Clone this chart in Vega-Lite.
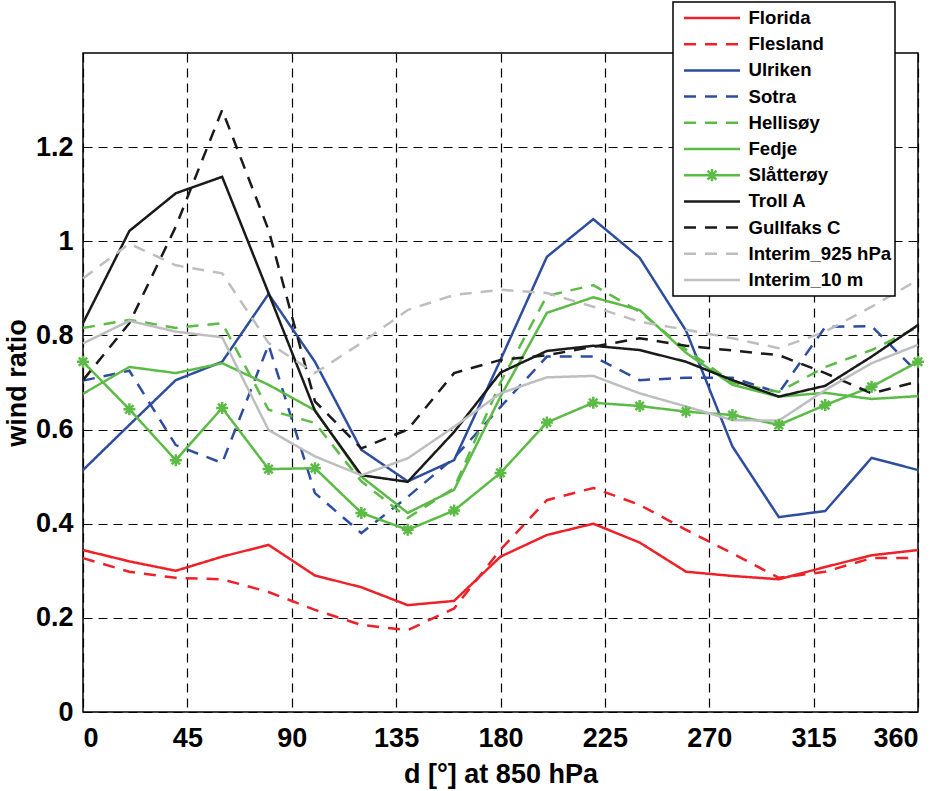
{
  "$schema": "https://vega.github.io/schema/vega-lite/v6.json",
  "description": "Wind ratio against wind direction at 850 hPa",
  "width": 835,
  "height": 659,
  "autosize": {"type": "none"},
  "padding": {"left": 83, "top": 53, "right": 23, "bottom": 79},
  "config": {
    "font": "Liberation Sans",
    "view": {"stroke": "black", "strokeWidth": 1.5},
    "axis": {
      "grid": true,
      "gridColor": "black",
      "gridDash": [9, 6],
      "gridWidth": 1.2,
      "gridOpacity": 1,
      "domain": false,
      "ticks": false,
      "tickSize": 0,
      "labelFont": "Liberation Sans",
      "labelFontSize": 27,
      "labelFontWeight": "bold",
      "labelColor": "black",
      "titleFont": "Liberation Sans",
      "titleFontSize": 27,
      "titleFontWeight": "bold",
      "titleColor": "black"
    }
  },
  "datasets": {
    "wind": [
      {"d": 0, "series": "Florida", "v": 0.344}, {"d": 20, "series": "Florida", "v": 0.32}, {"d": 40, "series": "Florida", "v": 0.30}, {"d": 60, "series": "Florida", "v": 0.33}, {"d": 80, "series": "Florida", "v": 0.355}, {"d": 100, "series": "Florida", "v": 0.29}, {"d": 120, "series": "Florida", "v": 0.265}, {"d": 140, "series": "Florida", "v": 0.227}, {"d": 160, "series": "Florida", "v": 0.236}, {"d": 180, "series": "Florida", "v": 0.33}, {"d": 200, "series": "Florida", "v": 0.376}, {"d": 220, "series": "Florida", "v": 0.40}, {"d": 240, "series": "Florida", "v": 0.36}, {"d": 260, "series": "Florida", "v": 0.298}, {"d": 280, "series": "Florida", "v": 0.289}, {"d": 300, "series": "Florida", "v": 0.282}, {"d": 320, "series": "Florida", "v": 0.308}, {"d": 340, "series": "Florida", "v": 0.333}, {"d": 360, "series": "Florida", "v": 0.344},
      {"d": 0, "series": "Flesland", "v": 0.327}, {"d": 20, "series": "Flesland", "v": 0.298}, {"d": 40, "series": "Flesland", "v": 0.285}, {"d": 60, "series": "Flesland", "v": 0.282}, {"d": 80, "series": "Flesland", "v": 0.255}, {"d": 100, "series": "Flesland", "v": 0.217}, {"d": 120, "series": "Flesland", "v": 0.185}, {"d": 140, "series": "Flesland", "v": 0.174}, {"d": 160, "series": "Flesland", "v": 0.22}, {"d": 180, "series": "Flesland", "v": 0.345}, {"d": 200, "series": "Flesland", "v": 0.45}, {"d": 220, "series": "Flesland", "v": 0.476}, {"d": 240, "series": "Flesland", "v": 0.44}, {"d": 260, "series": "Flesland", "v": 0.387}, {"d": 280, "series": "Flesland", "v": 0.337}, {"d": 300, "series": "Flesland", "v": 0.285}, {"d": 320, "series": "Flesland", "v": 0.298}, {"d": 340, "series": "Flesland", "v": 0.327}, {"d": 360, "series": "Flesland", "v": 0.327},
      {"d": 0, "series": "Ulriken", "v": 0.514}, {"d": 20, "series": "Ulriken", "v": 0.61}, {"d": 40, "series": "Ulriken", "v": 0.705}, {"d": 60, "series": "Ulriken", "v": 0.744}, {"d": 80, "series": "Ulriken", "v": 0.888}, {"d": 100, "series": "Ulriken", "v": 0.744}, {"d": 120, "series": "Ulriken", "v": 0.557}, {"d": 140, "series": "Ulriken", "v": 0.49}, {"d": 160, "series": "Ulriken", "v": 0.535}, {"d": 180, "series": "Ulriken", "v": 0.748}, {"d": 200, "series": "Ulriken", "v": 0.967}, {"d": 220, "series": "Ulriken", "v": 1.047}, {"d": 240, "series": "Ulriken", "v": 0.965}, {"d": 260, "series": "Ulriken", "v": 0.81}, {"d": 280, "series": "Ulriken", "v": 0.564}, {"d": 300, "series": "Ulriken", "v": 0.414}, {"d": 320, "series": "Ulriken", "v": 0.427}, {"d": 340, "series": "Ulriken", "v": 0.54}, {"d": 360, "series": "Ulriken", "v": 0.514},
      {"d": 0, "series": "Sotra", "v": 0.704}, {"d": 20, "series": "Sotra", "v": 0.725}, {"d": 40, "series": "Sotra", "v": 0.567}, {"d": 60, "series": "Sotra", "v": 0.529}, {"d": 80, "series": "Sotra", "v": 0.78}, {"d": 100, "series": "Sotra", "v": 0.465}, {"d": 120, "series": "Sotra", "v": 0.38}, {"d": 140, "series": "Sotra", "v": 0.457}, {"d": 160, "series": "Sotra", "v": 0.54}, {"d": 180, "series": "Sotra", "v": 0.648}, {"d": 200, "series": "Sotra", "v": 0.755}, {"d": 220, "series": "Sotra", "v": 0.755}, {"d": 240, "series": "Sotra", "v": 0.705}, {"d": 260, "series": "Sotra", "v": 0.71}, {"d": 280, "series": "Sotra", "v": 0.71}, {"d": 300, "series": "Sotra", "v": 0.678}, {"d": 320, "series": "Sotra", "v": 0.818}, {"d": 340, "series": "Sotra", "v": 0.82}, {"d": 360, "series": "Sotra", "v": 0.72},
      {"d": 0, "series": "Hellisøy", "v": 0.816}, {"d": 20, "series": "Hellisøy", "v": 0.833}, {"d": 40, "series": "Hellisøy", "v": 0.816}, {"d": 60, "series": "Hellisøy", "v": 0.826}, {"d": 80, "series": "Hellisøy", "v": 0.642}, {"d": 100, "series": "Hellisøy", "v": 0.614}, {"d": 120, "series": "Hellisøy", "v": 0.49}, {"d": 140, "series": "Hellisøy", "v": 0.412}, {"d": 160, "series": "Hellisøy", "v": 0.476}, {"d": 180, "series": "Hellisøy", "v": 0.70}, {"d": 200, "series": "Hellisøy", "v": 0.884}, {"d": 220, "series": "Hellisøy", "v": 0.907}, {"d": 240, "series": "Hellisøy", "v": 0.85}, {"d": 260, "series": "Hellisøy", "v": 0.77}, {"d": 280, "series": "Hellisøy", "v": 0.70}, {"d": 300, "series": "Hellisøy", "v": 0.68}, {"d": 320, "series": "Hellisøy", "v": 0.733}, {"d": 340, "series": "Hellisøy", "v": 0.769}, {"d": 360, "series": "Hellisøy", "v": 0.818},
      {"d": 0, "series": "Fedje", "v": 0.676}, {"d": 20, "series": "Fedje", "v": 0.733}, {"d": 40, "series": "Fedje", "v": 0.72}, {"d": 60, "series": "Fedje", "v": 0.741}, {"d": 80, "series": "Fedje", "v": 0.695}, {"d": 100, "series": "Fedje", "v": 0.641}, {"d": 120, "series": "Fedje", "v": 0.50}, {"d": 140, "series": "Fedje", "v": 0.423}, {"d": 160, "series": "Fedje", "v": 0.472}, {"d": 180, "series": "Fedje", "v": 0.67}, {"d": 200, "series": "Fedje", "v": 0.848}, {"d": 220, "series": "Fedje", "v": 0.881}, {"d": 240, "series": "Fedje", "v": 0.854}, {"d": 260, "series": "Fedje", "v": 0.763}, {"d": 280, "series": "Fedje", "v": 0.695}, {"d": 300, "series": "Fedje", "v": 0.67}, {"d": 320, "series": "Fedje", "v": 0.678}, {"d": 340, "series": "Fedje", "v": 0.665}, {"d": 360, "series": "Fedje", "v": 0.671},
      {"d": 0, "series": "Slåtterøy", "v": 0.744}, {"d": 20, "series": "Slåtterøy", "v": 0.643}, {"d": 40, "series": "Slåtterøy", "v": 0.535}, {"d": 60, "series": "Slåtterøy", "v": 0.646}, {"d": 80, "series": "Slåtterøy", "v": 0.516}, {"d": 100, "series": "Slåtterøy", "v": 0.518}, {"d": 120, "series": "Slåtterøy", "v": 0.423}, {"d": 140, "series": "Slåtterøy", "v": 0.387}, {"d": 160, "series": "Slåtterøy", "v": 0.428}, {"d": 180, "series": "Slåtterøy", "v": 0.508}, {"d": 200, "series": "Slåtterøy", "v": 0.615}, {"d": 220, "series": "Slåtterøy", "v": 0.657}, {"d": 240, "series": "Slåtterøy", "v": 0.65}, {"d": 260, "series": "Slåtterøy", "v": 0.638}, {"d": 280, "series": "Slåtterøy", "v": 0.631}, {"d": 300, "series": "Slåtterøy", "v": 0.61}, {"d": 320, "series": "Slåtterøy", "v": 0.652}, {"d": 340, "series": "Slåtterøy", "v": 0.691}, {"d": 360, "series": "Slåtterøy", "v": 0.744},
      {"d": 0, "series": "Troll A", "v": 0.826}, {"d": 20, "series": "Troll A", "v": 1.022}, {"d": 40, "series": "Troll A", "v": 1.102}, {"d": 60, "series": "Troll A", "v": 1.137}, {"d": 80, "series": "Troll A", "v": 0.89}, {"d": 100, "series": "Troll A", "v": 0.64}, {"d": 120, "series": "Troll A", "v": 0.503}, {"d": 140, "series": "Troll A", "v": 0.489}, {"d": 160, "series": "Troll A", "v": 0.595}, {"d": 180, "series": "Troll A", "v": 0.721}, {"d": 200, "series": "Troll A", "v": 0.767}, {"d": 220, "series": "Troll A", "v": 0.778}, {"d": 240, "series": "Troll A", "v": 0.769}, {"d": 260, "series": "Troll A", "v": 0.744}, {"d": 280, "series": "Troll A", "v": 0.705}, {"d": 300, "series": "Troll A", "v": 0.67}, {"d": 320, "series": "Troll A", "v": 0.693}, {"d": 340, "series": "Troll A", "v": 0.755}, {"d": 360, "series": "Troll A", "v": 0.822},
      {"d": 0, "series": "Gullfaks C", "v": 0.705}, {"d": 20, "series": "Gullfaks C", "v": 0.826}, {"d": 40, "series": "Gullfaks C", "v": 1.031}, {"d": 60, "series": "Gullfaks C", "v": 1.279}, {"d": 80, "series": "Gullfaks C", "v": 1.024}, {"d": 100, "series": "Gullfaks C", "v": 0.66}, {"d": 120, "series": "Gullfaks C", "v": 0.56}, {"d": 140, "series": "Gullfaks C", "v": 0.60}, {"d": 160, "series": "Gullfaks C", "v": 0.72}, {"d": 180, "series": "Gullfaks C", "v": 0.748}, {"d": 200, "series": "Gullfaks C", "v": 0.758}, {"d": 220, "series": "Gullfaks C", "v": 0.776}, {"d": 240, "series": "Gullfaks C", "v": 0.794}, {"d": 260, "series": "Gullfaks C", "v": 0.778}, {"d": 280, "series": "Gullfaks C", "v": 0.768}, {"d": 300, "series": "Gullfaks C", "v": 0.758}, {"d": 320, "series": "Gullfaks C", "v": 0.72}, {"d": 340, "series": "Gullfaks C", "v": 0.677}, {"d": 360, "series": "Gullfaks C", "v": 0.702},
      {"d": 0, "series": "Interim_925 hPa", "v": 0.921}, {"d": 20, "series": "Interim_925 hPa", "v": 0.995}, {"d": 40, "series": "Interim_925 hPa", "v": 0.949}, {"d": 60, "series": "Interim_925 hPa", "v": 0.932}, {"d": 80, "series": "Interim_925 hPa", "v": 0.784}, {"d": 100, "series": "Interim_925 hPa", "v": 0.72}, {"d": 120, "series": "Interim_925 hPa", "v": 0.784}, {"d": 140, "series": "Interim_925 hPa", "v": 0.854}, {"d": 160, "series": "Interim_925 hPa", "v": 0.886}, {"d": 180, "series": "Interim_925 hPa", "v": 0.897}, {"d": 200, "series": "Interim_925 hPa", "v": 0.89}, {"d": 220, "series": "Interim_925 hPa", "v": 0.861}, {"d": 240, "series": "Interim_925 hPa", "v": 0.829}, {"d": 260, "series": "Interim_925 hPa", "v": 0.812}, {"d": 280, "series": "Interim_925 hPa", "v": 0.794}, {"d": 300, "series": "Interim_925 hPa", "v": 0.773}, {"d": 320, "series": "Interim_925 hPa", "v": 0.808}, {"d": 340, "series": "Interim_925 hPa", "v": 0.861}, {"d": 360, "series": "Interim_925 hPa", "v": 0.918},
      {"d": 0, "series": "Interim_10 m", "v": 0.783}, {"d": 20, "series": "Interim_10 m", "v": 0.831}, {"d": 40, "series": "Interim_10 m", "v": 0.808}, {"d": 60, "series": "Interim_10 m", "v": 0.796}, {"d": 80, "series": "Interim_10 m", "v": 0.599}, {"d": 100, "series": "Interim_10 m", "v": 0.543}, {"d": 120, "series": "Interim_10 m", "v": 0.503}, {"d": 140, "series": "Interim_10 m", "v": 0.539}, {"d": 160, "series": "Interim_10 m", "v": 0.606}, {"d": 180, "series": "Interim_10 m", "v": 0.677}, {"d": 200, "series": "Interim_10 m", "v": 0.711}, {"d": 220, "series": "Interim_10 m", "v": 0.714}, {"d": 240, "series": "Interim_10 m", "v": 0.677}, {"d": 260, "series": "Interim_10 m", "v": 0.649}, {"d": 280, "series": "Interim_10 m", "v": 0.62}, {"d": 300, "series": "Interim_10 m", "v": 0.619}, {"d": 320, "series": "Interim_10 m", "v": 0.684}, {"d": 340, "series": "Interim_10 m", "v": 0.741}, {"d": 360, "series": "Interim_10 m", "v": 0.78}
    ]
  },
  "data": {"name": "wind"},
  "encoding": {
    "x": {
      "field": "d",
      "type": "quantitative",
      "title": "d [°] at 850 hPa",
      "scale": {"domain": [0, 360], "nice": false, "zero": false},
      "axis": {"values": [0, 45, 90, 135, 180, 225, 270, 315, 360], "labelPadding": 13, "titlePadding": 10}
    },
    "y": {
      "field": "v",
      "type": "quantitative",
      "title": "wind ratio",
      "scale": {"domain": [0, 1.4], "nice": false},
      "axis": {"values": [0, 0.2, 0.4, 0.6, 0.8, 1, 1.2], "format": ".1~f", "labelPadding": 10, "titlePadding": 4}
    }
  },
  "layer": [
    {
      "mark": {"type": "line", "strokeWidth": 2.5},
      "encoding": {
        "color": {
          "field": "series",
          "type": "nominal",
          "scale": {
            "domain": ["Florida", "Flesland", "Ulriken", "Sotra", "Hellisøy", "Fedje", "Slåtterøy", "Troll A", "Gullfaks C", "Interim_925 hPa", "Interim_10 m"],
            "range": ["#ee2028", "#ee2028", "#2e4d9f", "#2e4d9f", "#5cbb46", "#5cbb46", "#5cbb46", "#1a1a1a", "#1a1a1a", "#bcbec0", "#bcbec0"]
          },
          "legend": {
            "title": null,
            "orient": "none",
            "legendX": 590,
            "legendY": -51,
            "fillColor": "white",
            "strokeColor": "black",
            "padding": 3,
            "rowPadding": 0.2,
            "clipHeight": 26,
            "symbolType": "stroke",
            "symbolSize": 3136,
            "symbolStrokeWidth": 2.5,
            "symbolOffset": 6.5,
            "labelOffset": 7,
            "labelFont": "Liberation Sans",
            "labelFontSize": 18.6,
            "labelFontWeight": "bold",
            "labelColor": "black",
            "labelLimit": 200,
            "encode": {
              "legend": {"update": {"strokeWidth": {"value": 1.5}}},
              "symbols": {"update": {"shape": {"signal": "datum.value === 'Slåtterøy' ? 'M-1,0H1M0,-0.22V0.22M-0.16,-0.16L0.16,0.16M-0.16,0.16L0.16,-0.16' : 'stroke'"}}}
            }
          }
        },
        "strokeDash": {
          "field": "series",
          "type": "nominal",
          "scale": {
            "domain": ["Florida", "Flesland", "Ulriken", "Sotra", "Hellisøy", "Fedje", "Slåtterøy", "Troll A", "Gullfaks C", "Interim_925 hPa", "Interim_10 m"],
            "range": [[1, 0], [12, 9], [1, 0], [12, 9], [12, 9], [1, 0], [1, 0], [1, 0], [12, 9], [12, 9], [1, 0]]
          }
        }
      }
    },
    {
      "transform": [{"filter": "datum.series === 'Slåtterøy'"}],
      "mark": {
        "type": "point",
        "shape": "M-1,0H1M0,-1V1M-0.7,-0.7L0.7,0.7M-0.7,0.7L0.7,-0.7",
        "filled": false,
        "color": "#5cbb46",
        "strokeWidth": 2.5,
        "size": 144,
        "opacity": 1
      }
    }
  ]
}
